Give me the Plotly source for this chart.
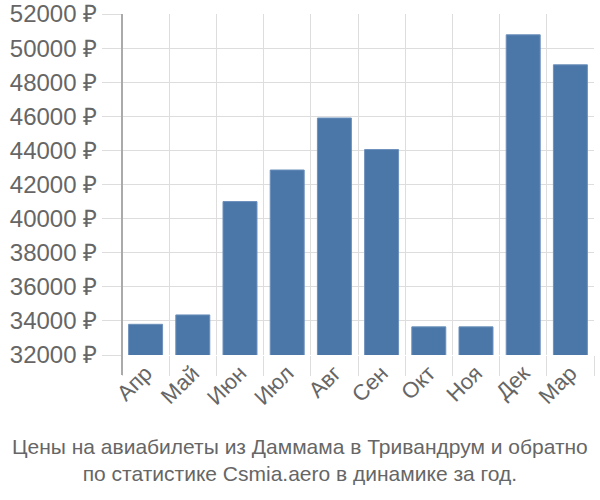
import plotly.graph_objects as go

months = ["Апр", "Май", "Июн", "Июл", "Авг", "Сен", "Окт", "Ноя", "Дек", "Мар"]
prices = [33800, 34350, 41000, 42850, 45900, 44050, 33650, 33650, 50780, 49020]
y_ticks = list(range(32000, 52001, 2000))
y_labels = [f"{v} ₽" for v in y_ticks]
title_lines = ["Цены на авиабилеты из Даммама в Тривандрум и обратно",
               "по статистике Csmia.aero в динамике за год."]

fig = go.Figure(go.Bar(
    x=months, y=prices,
    marker=dict(color="#4a77a8", line=dict(color="#6d90bb", width=1)),
))

W, H = 600, 500
L, R, T = 122, 6, 14
B = H - 355
PW, PH = W - L - R, H - T - B
font_family = "Liberation Sans, Arial, sans-serif"
fig.update_layout(
    width=W, height=H,
    margin=dict(l=L, r=R, t=T, b=B),
    plot_bgcolor="white", paper_bgcolor="white",
    bargap=0.28,
    showlegend=False,
    font=dict(family=font_family, color="#666666", size=22),
    xaxis=dict(
        tickson="boundaries", showgrid=True, gridcolor="#dddddd", gridwidth=1,
        ticks="outside", ticklen=20, tickcolor="#dddddd", tickwidth=1,
        tickangle=-45, tickfont=dict(size=22, color="#666666"),
        showline=False, zeroline=False, automargin=False,
    ),
    yaxis=dict(
        range=[32000, 52000], tickvals=y_ticks, ticktext=y_labels,
        showgrid=True, gridcolor="#dddddd", gridwidth=1,
        ticks="outside", ticklen=19, tickcolor="#dddddd", tickwidth=1,
        tickfont=dict(size=24, color="#666666"),
        showline=False, zeroline=False, automargin=False,
        ticklabeloverflow="allow",
    ),
    annotations=[dict(
        text="<br>".join(title_lines), xref="paper", yref="paper",
        x=(300 - L) / PW, y=-(433 - (T + PH)) / PH,
        xanchor="center", yanchor="top",
        showarrow=False, font=dict(size=21, color="#666666", family=font_family),
    )],
    shapes=[dict(type="line", xref="paper", yref="paper", x0=0, x1=0,
                 y0=-20 / PH, y1=1, line=dict(color="#aaaaaa", width=2))],
)

fig.write_html("out.html", config={"displayModeBar": False},
               post_script="document.body.style.margin='0';")
